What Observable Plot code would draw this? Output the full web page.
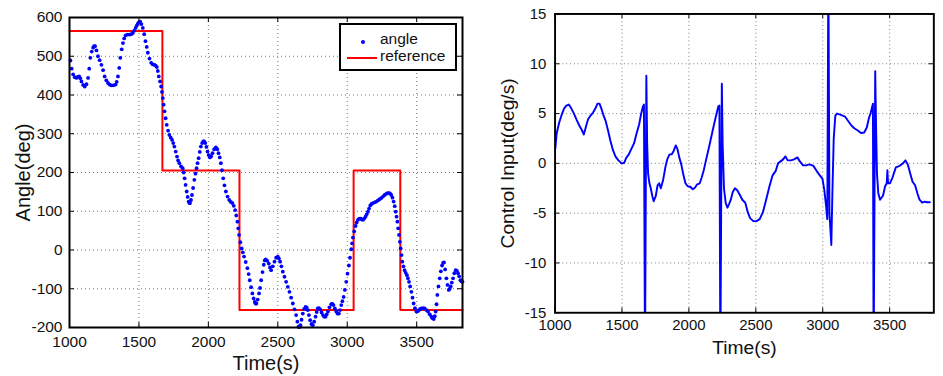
<!DOCTYPE html>
<html>
<head>
<meta charset="utf-8">
<script src="https://cdn.jsdelivr.net/npm/d3@7"></script>
<script src="https://cdn.jsdelivr.net/npm/@observablehq/plot@0.6"></script>
<style>
  html, body { margin: 0; padding: 0; background: #fff; }
  #wrap { position: relative; width: 943px; height: 376px; overflow: hidden; background: #fff;
          font-family: "Liberation Sans", Arial, Helvetica, sans-serif; color: #111; }
  #left { position: absolute; left: 0; top: 0; }
  #right { position: absolute; left: 490px; top: 0; }
  #legend { position: absolute; left: 339px; top: 23px; width: 118px; height: 48px; box-sizing: border-box;
            border: 2px solid #000; background: #fff; }
  #legend .txt { position: absolute; font-size: 15.5px; line-height: 15.5px; white-space: nowrap; }
  #legend .dot { position: absolute; width: 4px; height: 4px; border-radius: 50%; background: #0000ff; }
  #legend .ln { position: absolute; height: 2px; background: #ff0000; }
</style>
</head>
<body>
<div id="wrap">
  <div id="left"></div>
  <div id="right"></div>
  <div id="legend">
    <div class="dot" style="left:20px; top:15px;"></div>
    <div class="txt" style="left:39px; top:6px;">angle</div>
    <div class="ln" style="left:6px; top:32px; width:30px;"></div>
    <div class="txt" style="left:39px; top:23px;">reference</div>
  </div>
</div>
<script>
// ---- Data ----
const xTicks = [1000, 1500, 2000, 2500, 3000, 3500];
const xGrid = [1500, 2000, 2500, 3000, 3500];
const angleTicks = [-200, -100, 0, 100, 200, 300, 400, 500, 600];
const ctrlTicks = [-15, -10, -5, 0, 5, 10, 15];

// angle samples: [time (s), angle (deg)]
const anglePoints = [
  [1007,489],[1016,468],[1026,453],[1038,446],[1050,444],[1060,447],[1070,448],[1078,443],[1086,435],[1098,426],
  [1110,422],[1122,428],[1134,444],[1142,468],[1150,496],[1160,512],[1170,522],[1177,526],[1184,526],[1194,515],
  [1205,500],[1217,490],[1230,478],[1242,464],[1253,448],[1265,438],[1277,431],[1289,427],[1300,425],[1316,425],
  [1332,427],[1340,434],[1349,448],[1358,470],[1366,496],[1376,518],[1385,534],[1394,546],[1404,554],[1418,556],
  [1433,556],[1445,557],[1456,560],[1466,566],[1476,573],[1484,579],[1492,584],[1500,588],[1509,589],[1518,583],
  [1528,573],[1538,557],[1547,539],[1556,524],[1564,509],[1576,494],[1588,483],[1600,479],[1612,478],[1620,476],
  [1629,472],[1636,462],[1643,448],[1652,435],[1660,422],[1666,408],[1672,392],[1678,375],[1684,358],[1692,340],
  [1700,323],[1710,308],[1719,297],[1729,290],[1739,284],[1747,276],[1755,267],[1765,254],[1774,241],[1782,231],
  [1791,224],[1803,216],[1815,211],[1822,200],[1829,185],[1836,168],[1844,151],[1851,137],[1858,125],[1863,121],
  [1868,121],[1875,129],[1882,142],[1890,160],[1899,181],[1907,197],[1915,211],[1922,224],[1930,237],[1938,253],
  [1946,267],[1955,276],[1963,280],[1970,280],[1978,276],[1986,266],[1994,254],[2002,245],[2011,239],[2020,242],
  [2030,250],[2042,260],[2054,265],[2064,260],[2073,250],[2082,239],[2090,224],[2098,206],[2107,185],[2116,167],
  [2126,151],[2138,138],[2150,129],[2162,124],[2173,121],[2183,114],[2193,103],[2201,89],[2209,73],[2215,56],
  [2221,39],[2230,20],[2240,4],[2248,-6],[2257,-17],[2269,-31],[2281,-47],[2290,-62],[2298,-78],[2308,-96],
  [2317,-112],[2326,-125],[2334,-134],[2340,-138],[2346,-138],[2355,-128],[2365,-112],[2372,-98],[2380,-78],[2390,-57],
  [2399,-38],[2406,-27],[2413,-24],[2424,-28],[2435,-35],[2444,-45],[2452,-52],[2464,-42],[2476,-30],[2488,-20],
  [2500,-17],[2508,-22],[2517,-30],[2526,-42],[2536,-56],[2548,-69],[2560,-82],[2572,-95],[2584,-108],[2596,-123],
  [2608,-138],[2620,-153],[2632,-168],[2641,-185],[2649,-198],[2656,-199],[2663,-194],[2671,-180],[2680,-164],[2690,-152],
  [2700,-147],[2708,-149],[2716,-155],[2724,-168],[2733,-181],[2742,-191],[2752,-194],[2762,-185],[2772,-172],[2780,-160],
  [2788,-151],[2796,-150],[2805,-153],[2815,-161],[2825,-168],[2834,-172],[2844,-172],[2852,-166],[2861,-159],[2872,-148],
  [2885,-140],[2893,-139],[2901,-142],[2911,-151],[2921,-159],[2930,-164],[2940,-164],[2948,-155],[2957,-142],[2965,-132],
  [2974,-121],[2983,-103],[2993,-82],[3002,-61],[3012,-40],[3020,-20],[3029,2],[3035,17],[3041,32],[3050,48],
  [3060,62],[3068,71],[3077,78],[3086,81],[3096,81],[3104,79],[3113,78],[3122,81],[3132,86],[3140,92],
  [3149,99],[3157,107],[3166,115],[3175,119],[3185,121],[3197,123],[3209,125],[3221,128],[3233,131],[3245,134],
  [3257,138],[3269,142],[3281,145],[3290,147],[3300,147],[3308,146],[3317,142],[3326,135],[3334,125],[3342,113],
  [3349,99],[3355,86],[3361,73],[3367,56],[3373,39],[3379,21],[3385,4],[3391,-13],[3397,-30],[3405,-42],
  [3413,-52],[3421,-59],[3430,-65],[3437,-73],[3445,-82],[3453,-94],[3462,-108],[3470,-123],[3478,-138],[3488,-150],
  [3498,-159],[3507,-158],[3517,-155],[3525,-152],[3534,-151],[3546,-150],[3558,-151],[3570,-155],[3582,-159],[3594,-166],
  [3606,-172],[3614,-176],[3623,-178],[3630,-171],[3637,-159],[3643,-140],[3649,-116],[3657,-94],[3666,-73],[3674,-55],
  [3683,-40],[3690,-33],[3697,-32],[3705,-50],[3714,-73],[3722,-90],[3731,-103],[3738,-100],[3745,-94],[3753,-84],
  [3762,-73],[3771,-60],[3781,-52],[3790,-54],[3798,-60],[3806,-68],[3815,-78],[3823,-81],[3830,-82]
];

// reference steps: [time (s), level (deg)]
const refPoints = [[1000,565],[1669,205],[2224,-155],[3046,205],[3382,-155],[3830,-155]];

// control input: [time (s), deg/s]  (spikes run past the axis limits)
const ctrlPoints = [
  [1002,1.5],[1012,3.0],[1031,4.1],[1050,4.9],[1067,5.5],[1084,5.8],[1103,5.9],[1122,5.5],[1141,5.0],[1162,4.35],
  [1181,3.8],[1198,3.4],[1215,2.9],[1229,3.6],[1246,4.4],[1265,4.8],[1284,5.1],[1301,5.5],[1317,6.0],[1332,6.0],
  [1346,5.5],[1360,4.9],[1377,4.3],[1394,3.4],[1413,2.3],[1432,1.35],[1451,0.7],[1473,0.3],[1497,0.0],[1516,0.06],
  [1532,0.55],[1551,0.9],[1570,1.45],[1590,2.0],[1609,3.0],[1628,3.9],[1642,4.9],[1656,5.7],[1664,5.9],[1672,-20],
  [1682,8.8],[1688,2],[1695,-1],[1705,-2.0],[1715,-2.5],[1727,-3.3],[1737,-3.8],[1752,-3.3],[1766,-2.2],[1778,-2.0],
  [1790,-2.5],[1807,-1.7],[1824,-0.4],[1838,0.4],[1855,0.9],[1871,0.9],[1886,1.25],[1902,1.8],[1914,1.45],[1929,0.55],
  [1943,-0.1],[1957,-1.05],[1974,-2.0],[1991,-2.3],[2010,-2.35],[2029,-2.6],[2045,-2.45],[2062,-2.1],[2081,-2.0],[2096,-1.4],
  [2110,-0.75],[2129,0.4],[2148,1.5],[2167,2.65],[2186,3.8],[2205,4.9],[2219,5.7],[2228,5.8],[2235,-20],[2246,8.0],
  [2252,2],[2262,-2.5],[2275,-4.0],[2288,-4.45],[2300,-4.1],[2313,-3.65],[2327,-2.9],[2344,-2.5],[2361,-2.7],[2380,-3.15],
  [2399,-3.65],[2421,-3.95],[2440,-4.9],[2457,-5.5],[2481,-5.8],[2505,-5.8],[2529,-5.6],[2553,-4.9],[2577,-3.65],[2601,-2.35],
  [2625,-1.2],[2649,-0.75],[2666,0],[2685,0.2],[2704,0.4],[2721,0.7],[2738,0.3],[2762,0.3],[2786,0.4],[2810,0.6],
  [2829,0.2],[2853,-0.2],[2877,-0.2],[2901,-0.1],[2930,-0.25],[2954,-0.75],[2978,-1.2],[2998,-1.55],[3012,-2.7],[3026,-4.45],
  [3034,-5.6],[3042,20],[3050,-5],[3064,-8.2],[3072,-3],[3082,2.5],[3094,4.8],[3106,5.0],[3130,4.9],[3166,4.7],
  [3190,4.25],[3214,3.8],[3238,3.5],[3262,3.3],[3286,3.05],[3310,3.1],[3329,3.6],[3346,4.6],[3358,5.05],[3370,5.7],
  [3375,6.0],[3380,-20],[3392,9.25],[3398,4],[3405,-1],[3415,-3.0],[3428,-3.65],[3450,-3.25],[3466,-2.3],[3478,-2.0],
  [3483,-0.7],[3488,-2.0],[3502,-2.0],[3522,-1.4],[3546,-0.4],[3575,-0.25],[3599,0],[3618,0.3],[3635,-0.1],[3651,-0.9],
  [3671,-1.85],[3690,-2.2],[3707,-3.0],[3723,-3.65],[3743,-3.95],[3762,-3.85],[3779,-3.9],[3800,-3.9]
];

// ---- Tables ----
const angle = anglePoints.map(([t, v]) => ({t, v}));
const ref = refPoints.map(([t, v]) => ({t, v}));
const ctrl = ctrlPoints.map(([t, v]) => ({t, v}));

const FONT = '"Liberation Sans", Arial, Helvetica, sans-serif';
const W = 470, H = 376;

function panel({marginLeft, marginRight, marginTop, marginBottom, yDomain, yTicks, xPad, yPad, yTitle, yTitleDx, rightTicks, marks}) {
  const fw = W - marginLeft - marginRight;
  const fh = H - marginTop - marginBottom;
  const tickMarks = [
    Plot.tickY(yTicks, {y: d => d, insetRight: fw - 5, stroke: "#000", strokeWidth: 1}),
    Plot.tickX(xTicks, {x: d => d, insetTop: fh - 5, stroke: "#000", strokeWidth: 1}),
    Plot.tickX(xTicks, {x: d => d, insetBottom: fh - 5, stroke: "#000", strokeWidth: 1})
  ];
  if (rightTicks) tickMarks.push(Plot.tickY(yTicks, {y: d => d, insetLeft: fw - 5, stroke: "#000", strokeWidth: 1}));
  return Plot.plot({
    width: W, height: H,
    marginLeft, marginRight, marginTop, marginBottom,
    style: {fontFamily: FONT, fontSize: "15.5px", color: "#111", background: "transparent", overflow: "visible"},
    x: {domain: [1000, 3830], ticks: xTicks, tickSize: 0, tickPadding: xPad, tickFormat: d => String(d), label: null},
    y: {domain: yDomain, ticks: yTicks, tickSize: 0, tickPadding: yPad, tickFormat: d => String(d), label: null},
    marks: [
      Plot.ruleX(xGrid, {x: d => d, stroke: "#777", strokeOpacity: 1, strokeDasharray: "1,3", strokeWidth: 1}),
      Plot.ruleY(yTicks.slice(1, -1), {y: d => d, stroke: "#777", strokeOpacity: 1, strokeDasharray: "1,3", strokeWidth: 1}),
      ...marks,
      ...tickMarks,
      Plot.frame({stroke: "#000", strokeWidth: 2}),
      Plot.text(["Time(s)"], {text: d => d, frameAnchor: "bottom", dy: 36, lineAnchor: "middle", textAnchor: "middle", fontSize: 20, fill: "#111"}),
      Plot.text([yTitle], {text: d => d, frameAnchor: "left", dx: yTitleDx, rotate: -90, lineAnchor: "middle", textAnchor: "middle", fontSize: 20, fill: "#111"})
    ]
  });
}

const left = panel({
  marginLeft: 69, marginRight: 8, marginTop: 17, marginBottom: 49,
  yDomain: [-200, 600], yTicks: angleTicks, xPad: 8, yPad: 7,
  yTitle: "Angle(deg)", yTitleDx: -46, rightTicks: true,
  marks: [
    Plot.line(ref, {x: "t", y: "v", curve: "step-after", stroke: "#ff0000", strokeWidth: 2}),
    Plot.dot(angle, {x: "t", y: "v", r: 1.9, fill: "#0000ff", stroke: "none"})
  ]
});
document.getElementById("left").appendChild(left);

const right = panel({
  marginLeft: 67, marginRight: 10, marginTop: 14, marginBottom: 52,
  yDomain: [-15, 15], yTicks: ctrlTicks, xPad: 7, yPad: 9,
  yTitle: "Control Input(deg/s)", yTitleDx: -49, rightTicks: true,
  marks: [
    Plot.line(ctrl, {x: "t", y: "v", stroke: "#0000ff", strokeWidth: 2, clip: true})
  ]
});
document.getElementById("right").appendChild(right);
</script>
</body>
</html>
